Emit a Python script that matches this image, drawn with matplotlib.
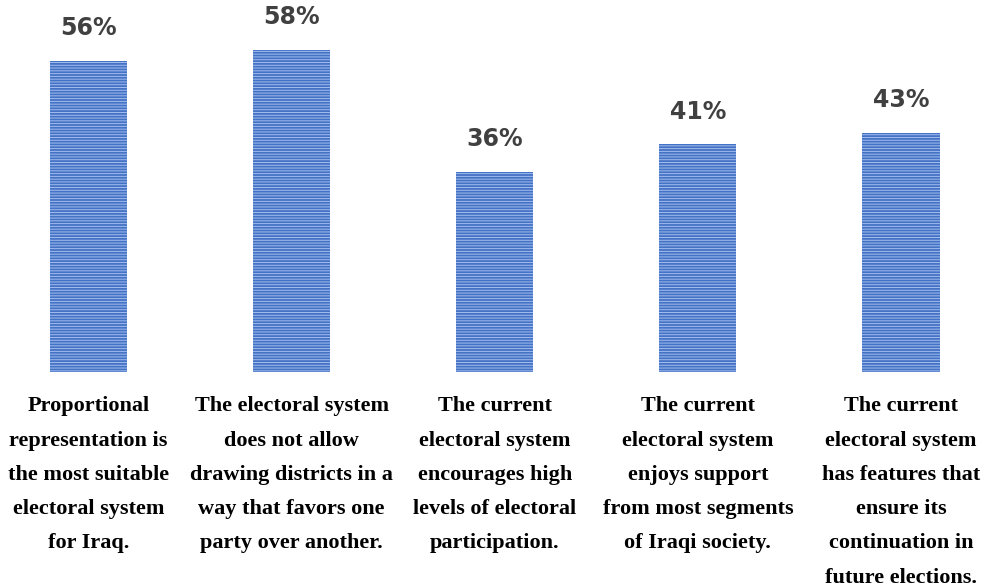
import matplotlib
matplotlib.use("Agg")
import matplotlib.pyplot as plt

categories = [
    "Proportional\nrepresentation is\nthe most suitable\nelectoral system\nfor Iraq.",
    "The electoral system\ndoes not allow\ndrawing districts in a\nway that favors one\nparty over another.",
    "The current\nelectoral system\nencourages high\nlevels of electoral\nparticipation.",
    "The current\nelectoral system\nenjoys support\nfrom most segments\nof Iraqi society.",
    "The current\nelectoral system\nhas features that\nensure its\ncontinuation in\nfuture elections.",
]
values = [56, 58, 36, 41, 43]
value_labels = ["56%", "58%", "36%", "41%", "43%"]

plt.rcParams["hatch.linewidth"] = 0.7

fig = plt.figure(figsize=(9.81, 5.88), dpi=100)
ax = fig.add_axes([0, 216 / 588, 1, 372 / 588])

x = list(range(len(values)))
ax.bar(x, values, width=0.38, color="#4472c4", edgecolor="#a3bdee",
       linewidth=0, hatch="------")

for xi, v, lab in zip(x, values, value_labels):
    ax.annotate(lab, (xi, v), xytext=(0, 15), textcoords="offset points",
                ha="center", va="bottom", fontsize=17, fontweight="bold",
                color="#404040", family="DejaVu Sans")

for xi, cat in zip(x, categories):
    ax.text(xi, -4.4, cat, ha="center", va="top", fontsize=16,
            fontweight="bold", family="Liberation Serif", color="black",
            linespacing=1.95)

ax.set_xlim(-0.436, 4.394)
ax.set_ylim(0, 67)
ax.axis("off")

fig.savefig("out.png", dpi=100)
